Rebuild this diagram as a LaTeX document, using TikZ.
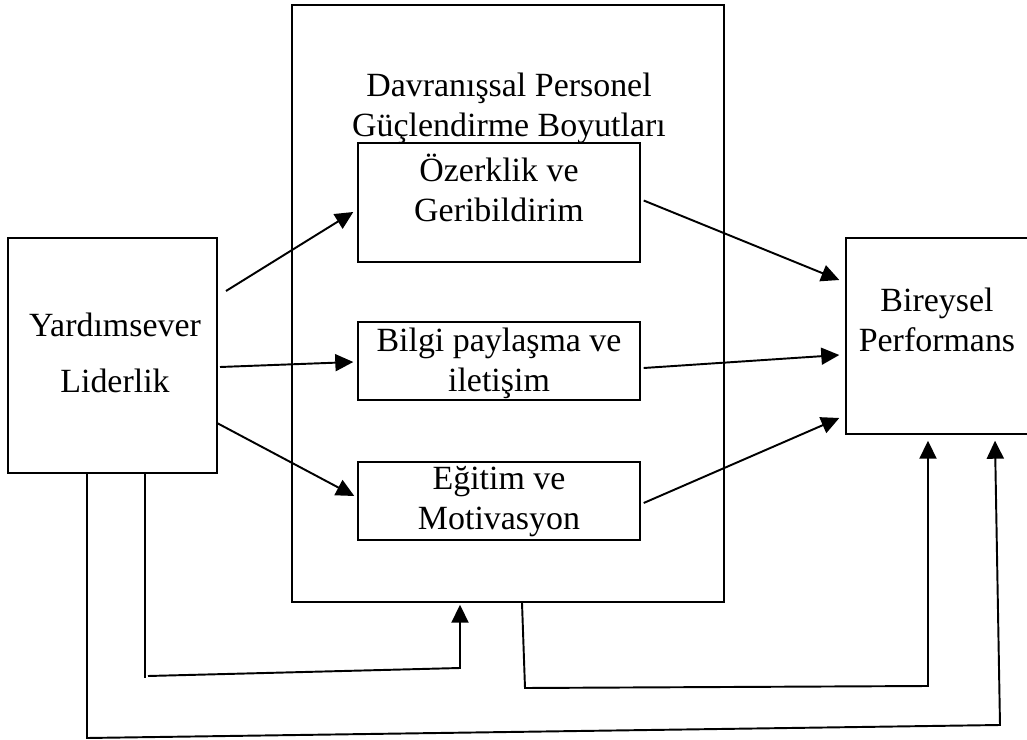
\documentclass[tikz,border=0pt]{standalone}
\usepackage{fontspec}
\setmainfont{Liberation Serif}
\usetikzlibrary{arrows.meta,calc}
\tikzstyle{kutu}=[draw,line width=0.8pt,inner sep=0pt]
\tikzstyle{ok}=[line width=1.1pt,-{Triangle[length=3.6mm,width=3.4mm]}]
\tikzstyle{cizgi}=[line width=1.1pt]
\tikzstyle{yazi}=[font=\fontsize{19.3}{22.8}\selectfont,align=center,inner sep=0pt]

\begin{document}
\begin{tikzpicture}[x=0.2mm,y=-0.2mm]
	
	\clip (0,0) rectangle (1027,740);
	\fill[white] (0,0) rectangle (1027,740);
	
	% kutular
	\node[kutu,minimum width=41.8mm,minimum height=47mm] (lider) at (112.5,355.5) {};
	\node[kutu,minimum width=86.4mm,minimum height=119.4mm] (boyut) at (508,303.5) {};
	\node[kutu,minimum width=56.4mm,minimum height=23.8mm] (ozerk) at (499,202.5) {};
	\node[kutu,minimum width=56.4mm,minimum height=15.6mm] (bilgi) at (499,361) {};
	\node[kutu,minimum width=56.4mm,minimum height=15.6mm] (egitim) at (499,501) {};
	\node[kutu,minimum width=38.8mm,minimum height=39.2mm] (perf) at (943,336) {};
	
	% yazilar
	\node[yazi] (baslik) at (509,108) {Davranışsal Personel\\Güçlendirme Boyutları};
	\node[yazi,font=\fontsize{19.3}{32}\selectfont] (liderYazi) at (115,353) {Yardımsever\\Liderlik};
	\node[yazi] (ozerkYazi) at (499,188) {Özerklik ve\\Geribildirim};
	\node[yazi] (bilgiYazi) at (499,363) {Bilgi paylaşma ve\\iletişim};
	\node[yazi] (egitimYazi) at (499,502) {Eğitim ve\\Motivasyon};
	\node[yazi] (perfYazi) at (937,320) {Bireysel\\Performans};
	
	% oklar
	\coordinate (l1) at (226,291);
	\coordinate (l2) at (220,367);
	\coordinate (l3) at (217,423);
	\draw[ok] (l1) -- ($(ozerk.west)+(-4,9.5)$);
	\draw[ok] (l2) -- ($(bilgi.west)+(-4,1)$);
	\draw[ok] (l3) -- ($(egitim.west)+(-3,-5)$);
	
	\draw[ok] ($(ozerk.east)+(3,-2)$) -- ($(perf.west)+(-6,-56)$);
	\draw[ok] ($(bilgi.east)+(3,7)$) -- ($(perf.west)+(-6,19)$);
	\draw[ok] ($(egitim.east)+(3,2)$) -- ($(perf.west)+(-6,82)$);
	
	% alt baglantilar
	\coordinate (a1) at (145,678);
	\coordinate (a2) at (148,676);
	\coordinate (a3) at (460,668);
	\draw[cizgi] (lider.south -| a1) -- (a1);
	\draw[ok] (a2) -- (a3) -- ($(boyut.south -| a3)+(0,2)$);
	
	\coordinate (b1) at (525,688);
	\coordinate (b2) at (928,686);
	\draw[ok] (boyut.south -| 522,0) -- (b1) -- (b2) -- ($(perf.south -| b2)+(0,6)$);
	
	\coordinate (c1) at (87,738);
	\coordinate (c2) at (1000,725);
	\draw[ok] (lider.south -| c1) -- (c1) -- (c2) -- ($(perf.south -| 995,0)+(0,6)$);
	
\end{tikzpicture}
\end{document}
